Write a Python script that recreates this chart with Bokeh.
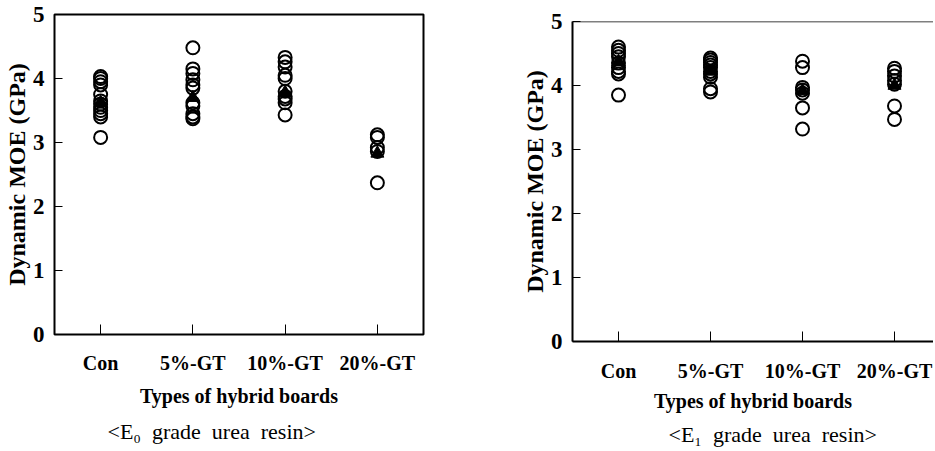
from bokeh.plotting import figure
from bokeh.models import Range1d, FixedTicker, Span, Title
from bokeh.layouts import row, column
from bokeh.embed import file_html
from bokeh.resources import INLINE

categories = ["Con", "5%-GT", "10%-GT", "20%-GT"]

# <E0 grade urea resin> - individual boards (GPa)
e0_con = [4.03, 4.00, 3.95, 3.90, 3.75, 3.65, 3.60, 3.55, 3.50, 3.45, 3.40, 3.08]
e0_5gt = [4.48, 4.15, 4.08, 3.98, 3.90, 3.85, 3.62, 3.57, 3.45, 3.40, 3.37]
e0_10gt = [4.33, 4.26, 4.18, 4.05, 4.00, 3.80, 3.72, 3.68, 3.62, 3.43]
e0_20gt = [3.12, 3.08, 2.92, 2.86, 2.37]
e0_mean = [3.62, 3.70, 3.78, 2.83]

# <E1 grade urea resin> - individual boards (GPa)
e1_con = [4.60, 4.55, 4.50, 4.45, 4.35, 4.28, 4.22, 4.18, 3.85]
e1_5gt = [4.43, 4.40, 4.36, 4.32, 4.28, 4.22, 4.18, 4.13, 3.95, 3.90]
e1_10gt = [4.38, 4.28, 3.97, 3.93, 3.88, 3.65, 3.32]
e1_20gt = [4.27, 4.22, 4.15, 4.08, 4.02, 3.68, 3.47]
e1_mean = [4.37, 4.22, 3.92, 4.00]

y_ticks = [0, 1, 2, 3, 4, 5]
y_label = "Dynamic MOE (GPa)"
x_label = "Types of hybrid boards"
captions = ["<E\u2080\u2002grade\u2002urea\u2002resin>", "<E\u2081\u2002grade\u2002urea\u2002resin>"]

FONT = "Liberation Serif"


def make_panel(groups, means, caption, width, bl, br, bt, bb, x_end, framed,
               tick_standoff, label_standoff, cap_offset, cap_standoff):
    p = figure(width=width, height=451, output_backend="svg", toolbar_location=None,
               x_range=Range1d(-0.5, x_end), y_range=Range1d(0, 5),
               min_border_left=bl, min_border_right=br,
               min_border_top=bt, min_border_bottom=bb)
    p.grid.visible = False
    p.background_fill_color = "white"
    p.border_fill_color = "white"
    if framed:
        p.outline_line_color = "black"
        p.outline_line_width = 2
        p.xaxis.axis_line_color = None
        p.yaxis.axis_line_color = None
    else:
        p.outline_line_color = None
        p.xaxis.axis_line_width = 2
        p.yaxis.axis_line_width = 2
        p.add_layout(Span(location=y_ticks[-1], dimension="width",
                          line_color="black", line_width=1.5))

    xs, ys = [], []
    for i, vals in enumerate(groups):
        xs += [i] * len(vals)
        ys += vals
    p.scatter(xs, ys, marker="circle", size=13, fill_color=None,
              line_color="black", line_width=2)
    p.scatter(list(range(len(means))), means, marker="triangle", size=13,
              fill_color="black", line_color="black")

    # x axis
    p.xaxis.ticker = FixedTicker(ticks=list(range(len(categories))))
    p.xaxis.major_label_overrides = {i: c for i, c in enumerate(categories)}
    p.xaxis.major_tick_in = 10
    p.xaxis.major_tick_out = 0
    p.xaxis.minor_tick_line_color = None
    p.xaxis.major_tick_line_color = "black"
    p.xaxis.major_label_text_font = FONT
    p.xaxis.major_label_text_font_style = "bold"
    p.xaxis.major_label_text_font_size = "20px"
    p.xaxis.major_label_text_color = "black"
    p.xaxis.major_label_standoff = tick_standoff
    p.xaxis.axis_label = x_label
    p.xaxis.axis_label_text_font = FONT
    p.xaxis.axis_label_text_font_style = "bold"
    p.xaxis.axis_label_text_font_size = "20px"
    p.xaxis.axis_label_text_color = "black"
    p.xaxis.axis_label_standoff = label_standoff

    # y axis
    p.yaxis.ticker = FixedTicker(ticks=y_ticks)
    p.yaxis.major_tick_in = 8
    p.yaxis.major_tick_out = 0
    p.yaxis.minor_tick_line_color = None
    p.yaxis.major_tick_line_color = "black"
    p.yaxis.major_label_text_font = FONT
    p.yaxis.major_label_text_font_style = "bold"
    p.yaxis.major_label_text_font_size = "23px"
    p.yaxis.major_label_text_color = "black"
    p.yaxis.major_label_standoff = 10
    p.yaxis.axis_label = y_label
    p.yaxis.axis_label_text_font = FONT
    p.yaxis.axis_label_text_font_style = "bold"
    p.yaxis.axis_label_text_font_size = "24px"
    p.yaxis.axis_label_text_color = "black"
    p.yaxis.axis_label_standoff = 0

    p.add_layout(Title(text=caption, align="left", offset=cap_offset,
                       standoff=cap_standoff, text_font=FONT,
                       text_font_size="22px", text_font_style="normal",
                       text_color="black"), "below")
    return p


left = make_panel([e0_con, e0_5gt, e0_10gt, e0_20gt], e0_mean, captions[0],
                  width=480, bl=53, br=57, bt=14, bb=115, x_end=3.5, framed=True,
                  tick_standoff=17, label_standoff=8, cap_offset=53, cap_standoff=15)
right = make_panel([e1_con, e1_5gt, e1_10gt, e1_20gt], e1_mean, captions[1],
                   width=453, bl=92, br=0, bt=21, bb=109, x_end=-0.5 + 361 / 92,
                   framed=False, tick_standoff=18, label_standoff=5,
                   cap_offset=96, cap_standoff=10)

layout = row(column(left), column(right))
open("out.html", "w").write(file_html(layout, INLINE))
